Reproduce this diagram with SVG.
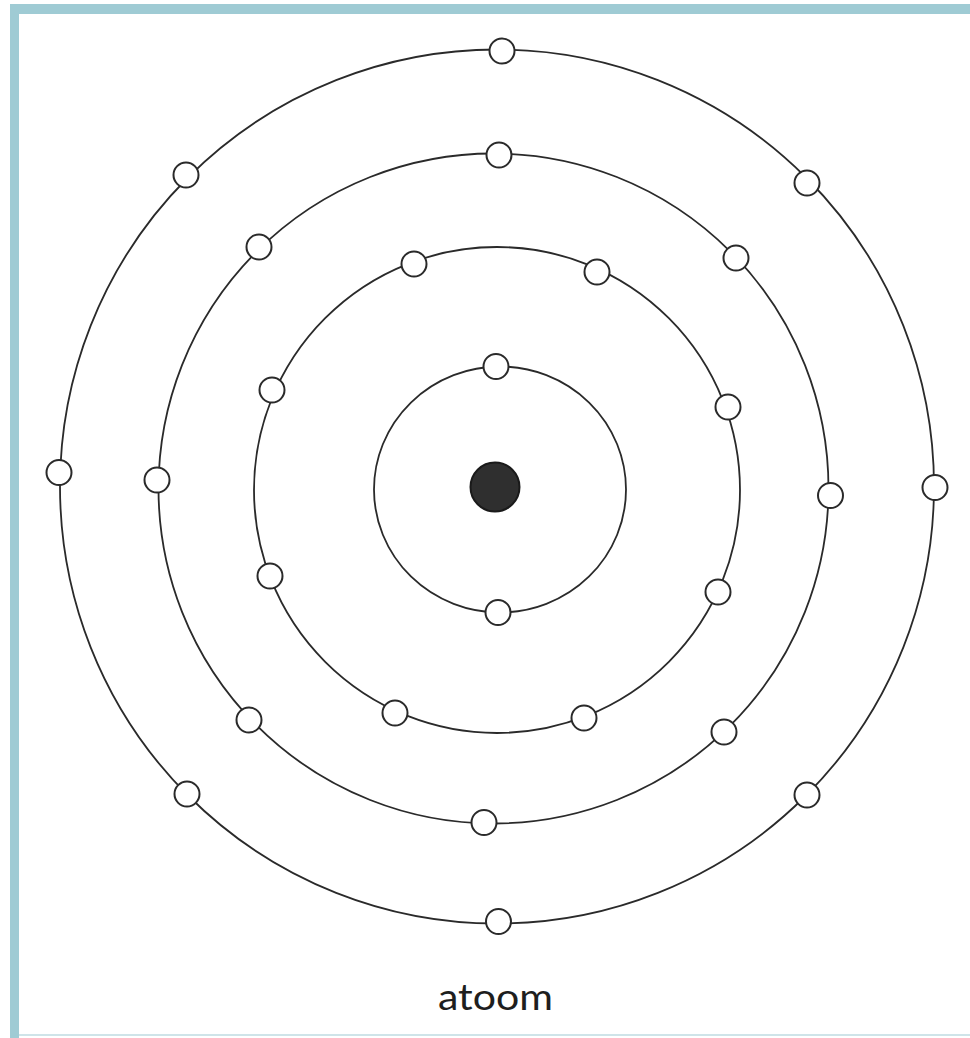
<svg xmlns="http://www.w3.org/2000/svg" width="970" height="1038" viewBox="0 0 970 1038">
  <style>
    .orbit { fill: none; stroke: #2a2a2a; stroke-width: 1.8; }
    .electron { fill: #ffffff; stroke: #2a2a2a; stroke-width: 2; }
    .nucleus { fill: #2f2f2f; stroke: #1a1a1a; stroke-width: 2; }
    .frame { fill: #9fcbd4; }
    .label { font-family: "Lato", "Open Sans", "Liberation Sans", sans-serif; font-size: 36px; fill: #1e1e1e; }
  </style>
  <rect x="0" y="0" width="970" height="1038" fill="#ffffff"/>
  <g id="frame">
    <rect class="frame" x="10" y="4" width="960" height="10"/>
    <rect class="frame" x="10" y="4" width="9" height="1034"/>
    <rect x="19" y="1034" width="951" height="2" fill="#cfe4e9"/>
  </g>
  <g id="orbits">
    <circle class="orbit" cx="497" cy="486.5" r="437"/>
    <circle class="orbit" cx="493.5" cy="488.5" r="335"/>
    <circle class="orbit" cx="497" cy="490" r="243"/>
    <ellipse class="orbit" cx="500" cy="489.5" rx="126" ry="123"/>
  </g>
  <g id="nucleus"><circle class="nucleus" cx="495" cy="487" r="24.5"/></g>
  <g id="shell1">
    <g id="e1-1"><circle class="electron" cx="496" cy="366.5" r="12.5"/></g>
    <g id="e1-2"><circle class="electron" cx="498" cy="612.5" r="12.5"/></g>
  </g>
  <g id="shell2">
    <g id="e2-1"><circle class="electron" cx="414" cy="264" r="12.5"/></g>
    <g id="e2-2"><circle class="electron" cx="597" cy="272" r="12.5"/></g>
    <g id="e2-3"><circle class="electron" cx="272" cy="390" r="12.5"/></g>
    <g id="e2-4"><circle class="electron" cx="728" cy="407" r="12.5"/></g>
    <g id="e2-5"><circle class="electron" cx="270" cy="576" r="12.5"/></g>
    <g id="e2-6"><circle class="electron" cx="718" cy="592" r="12.5"/></g>
    <g id="e2-7"><circle class="electron" cx="395" cy="713" r="12.5"/></g>
    <g id="e2-8"><circle class="electron" cx="584" cy="718" r="12.5"/></g>
  </g>
  <g id="shell3">
    <g id="e3-1"><circle class="electron" cx="499" cy="155" r="12.5"/></g>
    <g id="e3-2"><circle class="electron" cx="259" cy="247" r="12.5"/></g>
    <g id="e3-3"><circle class="electron" cx="736" cy="258" r="12.5"/></g>
    <g id="e3-4"><circle class="electron" cx="157" cy="480" r="12.5"/></g>
    <g id="e3-5"><circle class="electron" cx="830.5" cy="495.5" r="12.5"/></g>
    <g id="e3-6"><circle class="electron" cx="249" cy="720" r="12.5"/></g>
    <g id="e3-7"><circle class="electron" cx="724" cy="732" r="12.5"/></g>
    <g id="e3-8"><circle class="electron" cx="484" cy="822.5" r="12.5"/></g>
  </g>
  <g id="shell4">
    <g id="e4-1"><circle class="electron" cx="502" cy="51" r="12.5"/></g>
    <g id="e4-2"><circle class="electron" cx="186" cy="175" r="12.5"/></g>
    <g id="e4-3"><circle class="electron" cx="807" cy="183" r="12.5"/></g>
    <g id="e4-4"><circle class="electron" cx="59" cy="472.5" r="12.5"/></g>
    <g id="e4-5"><circle class="electron" cx="935" cy="487.5" r="12.5"/></g>
    <g id="e4-6"><circle class="electron" cx="187" cy="794" r="12.5"/></g>
    <g id="e4-7"><circle class="electron" cx="807" cy="795" r="12.5"/></g>
    <g id="e4-8"><circle class="electron" cx="498.5" cy="921.5" r="12.5"/></g>
  </g>
  <g id="caption">
    <text class="label" x="438" y="1010" textLength="115" lengthAdjust="spacingAndGlyphs">atoom</text>
  </g>
</svg>
